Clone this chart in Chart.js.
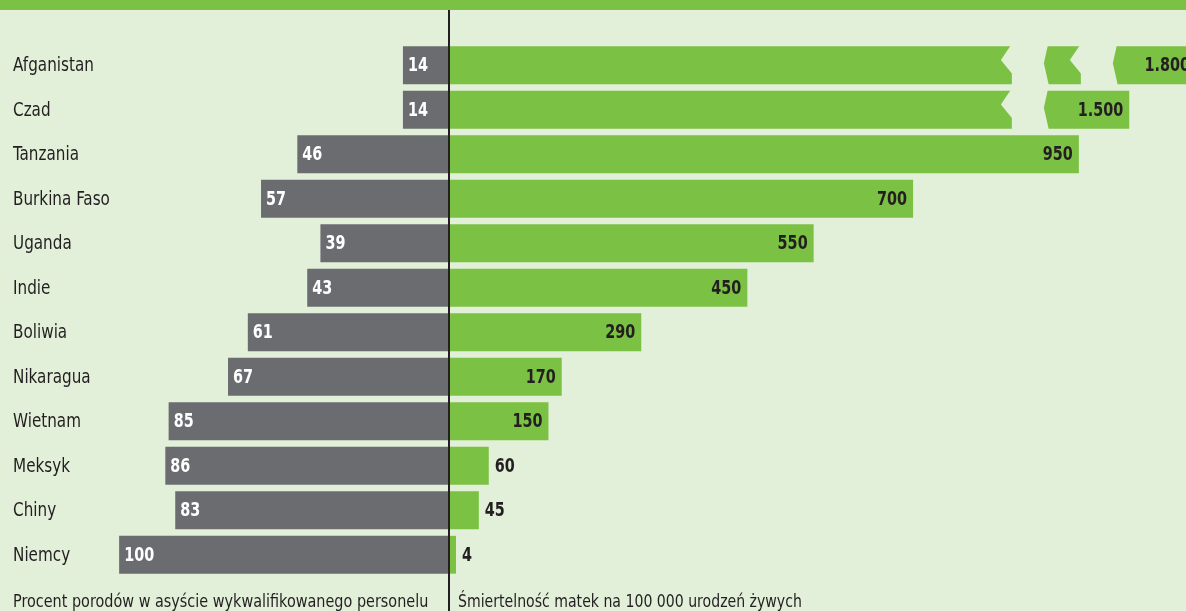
<!DOCTYPE html>
<html>
<head>
<meta charset="utf-8">
<script src="https://cdn.jsdelivr.net/npm/chart.js"></script>
<style>
  html, body { margin: 0; padding: 0; background: #e2efd9; overflow: hidden; }
  #wrap { position: relative; width: 1186px; height: 611px; }
</style>
</head>
<body>
<div id="wrap"><canvas id="birthsChart"></canvas></div>
<script>
const countries = ['Afganistan', 'Czad', 'Tanzania', 'Burkina Faso', 'Uganda', 'Indie',
  'Boliwia', 'Nikaragua', 'Wietnam', 'Meksyk', 'Chiny', 'Niemcy'];
const skilledBirths = [14, 14, 46, 57, 39, 43, 61, 67, 85, 86, 83, 100];
const maternalDeaths = [1800, 1500, 950, 700, 550, 450, 290, 170, 150, 60, 45, 4];

const leftTitle = 'Procent porodów w asyście wykwalifikowanego personelu';
const rightTitle = 'Śmiertelność matek na 100 000 urodzeń żywych';

const colors = {
  bg: '#e2efd9',
  green: '#7bc143',
  grey: '#6b6c70',
  ink: '#231f20',
  white: '#ffffff'
};
const FONT = "'DejaVu Sans Condensed', sans-serif";

// linear scale with a skipped range of values (broken axis)
class BrokenScale extends Chart.LinearScale {
  squash(v) {
    const gap = this.options.gap;
    if (!gap || v <= gap.from) return v;
    if (v >= gap.to) return v - (gap.to - gap.from);
    return gap.from;
  }
  getPixelForValue(v) {
    return super.getPixelForValue(v === null ? null : this.squash(v));
  }
}
BrokenScale.id = 'broken';
BrokenScale.defaults = Chart.LinearScale.defaults;
Chart.register(BrokenScale);

const fmt = v => String(v).replace(/\B(?=(\d{3})+(?!\d))/g, '.');

// condensed text: squeeze horizontally around the anchor
function text(ctx, str, x, y, align, sx) {
  ctx.save();
  ctx.translate(x, y);
  ctx.scale(sx, 1);
  ctx.textAlign = align;
  ctx.fillText(str, 0, 0);
  ctx.restore();
}

// gap in a broken bar, chevron shaped
function cutBar(ctx, a, top, h) {
  const b = top + h;
  ctx.beginPath();
  ctx.moveTo(a, top - 1);
  ctx.lineTo(a + 37, top - 1);
  ctx.lineTo(a + 33, top + 0.45 * h);
  ctx.lineTo(a + 38, b + 1);
  ctx.lineTo(a + 1, b + 1);
  ctx.lineTo(a + 1, top + 0.72 * h);
  ctx.lineTo(a - 10, top + 0.36 * h);
  ctx.closePath();
  ctx.fill();
}

const decor = {
  id: 'decor',
  beforeDraw(chart) {
    const ctx = chart.ctx;
    ctx.save();
    ctx.fillStyle = colors.bg;
    ctx.fillRect(0, 0, chart.width, chart.height);
    ctx.fillStyle = colors.green;
    ctx.fillRect(0, 0, chart.width, 10);
    ctx.restore();
  },
  afterDatasetsDraw(chart) {
    const ctx = chart.ctx;
    const area = chart.chartArea;
    const xR = chart.scales.xR;
    const zeroPx = xR.getPixelForValue(0);
    const breakPx = xR.getPixelForValue(xR.options.gap.from);
    const greyBars = chart.getDatasetMeta(0).data;
    const greenBars = chart.getDatasetMeta(1).data;
    ctx.save();

    // breaks on the bars that leave the scale
    ctx.fillStyle = colors.bg;
    greenBars.forEach((bar, i) => {
      const top = bar.y - bar.height / 2;
      if (maternalDeaths[i] > xR.options.gap.from) cutBar(ctx, breakPx - 68, top, bar.height);
      if (bar.x > area.right) cutBar(ctx, breakPx + 1, top, bar.height);
    });

    // centre line
    ctx.fillStyle = colors.ink;
    ctx.fillRect(Math.round(zeroPx) - 1, 10, 2, chart.height - 10);

    ctx.textBaseline = 'middle';
    // category names
    ctx.font = '19px ' + FONT;
    ctx.fillStyle = colors.ink;
    greyBars.forEach((bar, i) => text(ctx, countries[i], 13, bar.y + 1, 'left', 0.89));

    ctx.font = 'bold 20px ' + FONT;
    // grey values, inside left end
    ctx.fillStyle = colors.white;
    greyBars.forEach((bar, i) => text(ctx, fmt(skilledBirths[i]), bar.x + 5, bar.y + 1, 'left', 0.8));

    // green values
    ctx.fillStyle = colors.ink;
    greenBars.forEach((bar, i) => {
      const end = Math.min(bar.x, area.right + 10);
      if (end - bar.base > 60) {
        text(ctx, fmt(maternalDeaths[i]), end - 6, bar.y + 1, 'right', 0.8);
      } else {
        text(ctx, fmt(maternalDeaths[i]), end + 6, bar.y + 1, 'left', 0.8);
      }
    });

    // axis titles
    ctx.font = '18px ' + FONT;
    ctx.textBaseline = 'alphabetic';
    text(ctx, leftTitle, 13, 607, 'left', 0.89);
    text(ctx, rightTitle, zeroPx + 9, 607, 'left', 0.87);
    ctx.restore();
  }
};

new Chart(document.getElementById('birthsChart'), {
  type: 'bar',
  data: {
    labels: countries,
    datasets: [{
      data: skilledBirths,
      xAxisID: 'xL',
      backgroundColor: colors.grey,
      grouped: false,
      barPercentage: 0.85,
      categoryPercentage: 1
    }, {
      data: maternalDeaths,
      xAxisID: 'xR',
      backgroundColor: colors.green,
      grouped: false,
      minBarLength: 7,
      barPercentage: 0.85,
      categoryPercentage: 1
    }]
  },
  options: {
    indexAxis: 'y',
    responsive: true,
    maintainAspectRatio: false,
    animation: false,
    layout: { padding: { left: 0, right: 0, top: 43, bottom: 34 } },
    plugins: { legend: { display: false }, tooltip: { enabled: false } },
    scales: {
      y: { display: false, offset: true },
      // 0 at the centre line, 3.3 px per percent
      xL: { type: 'linear', display: false, reverse: true, min: -223.3, max: 136.1 },
      // 0 at the centre line, ~0.663 px per death, values 950..1424 skipped
      xR: { type: 'broken', display: false, min: -677.2, max: 1111.6, gap: { from: 950, to: 1424 } }
    }
  },
  plugins: [decor]
});
</script>
</body>
</html>
